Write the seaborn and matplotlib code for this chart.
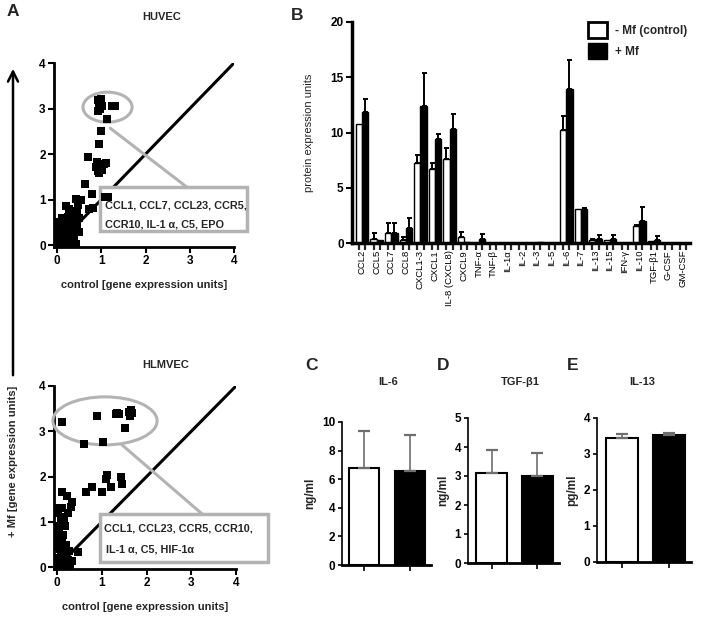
import matplotlib
matplotlib.use("Agg")
import pandas as pd
import matplotlib.pyplot as plt
import seaborn as sns
from matplotlib.patches import Ellipse, Rectangle, Patch, FancyArrowPatch

# -----------------------------
# Data
# -----------------------------
huvec_x = [0.93, 0.94, 0.95, 0.96, 0.93, 0.97, 0.98, 1.00, 1.01, 1.25, 1.32, 1.13,
           1.00, 0.95, 0.70, 0.88, 0.92, 0.95, 0.97, 1.02, 1.05, 1.10, 0.90,
           0.62, 0.80, 1.08, 1.15, 0.72, 0.82, 0.42, 0.55, 0.48, 0.20, 0.28,
           0.35, 0.38, 0.30, 0.45, 0.50, 0.10, 0.05, 0.15, 0.02, 0.08, 0.20,
           0.25, 0.12, 0.05, 0.18, 0.30, 0.35, 0.40, 0.02, 0.05, 0.10, 0.15,
           0.25, 0.30, 0.42, 0.00, 0.08, 0.05, 0.10, 0.15, 0.20, 0.22, 0.28,
           0.32, 0.12, 0.03, 0.38, 0.45, 0.50, 0.15, 0.07, 0.25]
huvec_y = [3.18, 3.12, 3.05, 3.00, 2.95, 3.10, 3.15, 3.20, 3.05, 3.05, 3.06, 2.76,
           2.50, 2.22, 1.93, 1.72, 1.62, 1.58, 1.70, 1.65, 1.78, 1.80, 1.82,
           1.35, 1.12, 1.06, 1.05, 0.80, 0.82, 1.02, 1.00, 0.88, 0.87, 0.80,
           0.75, 0.70, 0.68, 0.72, 0.60, 0.55, 0.50, 0.45, 0.40, 0.35, 0.35,
           0.30, 0.28, 0.20, 0.20, 0.25, 0.40, 0.35, 0.10, 0.05, 0.10, 0.10,
           0.15, 0.05, 0.02, 0.00, 0.15, 0.30, 0.25, 0.35, 0.15, 0.50, 0.45,
           0.55, 0.60, 0.15, 0.20, 0.45, 0.30, 0.02, 0.45, 0.62]

hlmvec_x = [0.12, 0.90, 0.59, 1.03, 1.31, 1.35, 1.39, 1.52, 1.60, 1.65, 1.68, 1.63,
            0.64, 0.77, 1.00, 1.09, 1.11, 1.20, 1.42, 1.46,
            0.10, 0.21, 0.34, 0.30, 0.25, 0.05, 0.03, 0.08, 0.12, 0.18,
            0.01, 0.05, 0.12, 0.20, 0.08, 0.03, 0.15, 0.27, 0.34, 0.46,
            0.00, 0.10, 0.20, 0.25, 0.02, 0.06, 0.14, 0.04,
            0.02, 0.05, 0.10, 0.15, 0.18, 0.05, 0.10, 0.03, 0.08, 0.15,
            0.12, 0.02, 0.20, 0.28]
hlmvec_y = [3.20, 3.33, 2.71, 2.77, 3.38, 3.40, 3.39, 3.07, 3.42, 3.47, 3.40, 3.33,
            1.66, 1.77, 1.67, 1.95, 2.03, 1.78, 2.00, 1.83,
            1.67, 1.57, 1.43, 1.33, 1.20, 1.30, 1.20, 1.00, 0.95, 0.90,
            0.60, 0.54, 0.46, 0.50, 0.31, 0.20, 0.24, 0.35, 0.13, 0.34,
            0.00, 0.05, 0.05, 0.15, 0.10, 0.40, 0.70, 0.80,
            0.05, 0.15, 0.25, 0.10, 0.35, 0.45, 0.60, 0.65, 1.10, 1.05,
            1.30, 0.90, 0.20, 0.05]
diag = [0, 4]

cytokines = ["CCL2", "CCL5", "CCL7", "CCL8", "CXCL1-3", "CXCL1", "IL-8 (CXCL8)",
             "CXCL9", "TNF-α", "TNF-β", "IL-1α", "IL-2", "IL-3", "IL-5", "IL-6",
             "IL-7", "IL-13", "IL-15", "IFN-γ", "IL-10", "TGF-β1", "G-CSF", "GM-CSF"]
ctrl_mean = [10.8, 0.4, 0.9, 0.3, 7.2, 6.7, 7.6, 0.5, 0.0, 0.0, 0.0, 0.0, 0.0, 0.0,
             10.2, 3.1, 0.3, 0.25, 0.0, 1.5, 0.2, 0.0, 0.0]
ctrl_err = [0.0, 0.5, 0.9, 0.2, 0.8, 0.5, 1.0, 0.5, 0.0, 0.0, 0.0, 0.0, 0.0, 0.0,
            1.3, 0.0, 0.1, 0.0, 0.0, 0.1, 0.0, 0.0, 0.0]
mf_mean = [11.9, 0.3, 0.9, 1.4, 12.4, 9.4, 10.3, 0.05, 0.4, 0.0, 0.0, 0.0, 0.05, 0.0,
           13.9, 3.1, 0.4, 0.4, 0.0, 2.0, 0.3, 0.0, 0.0]
mf_err = [1.1, 0.0, 0.9, 0.9, 3.0, 0.5, 1.4, 0.0, 0.4, 0.0, 0.0, 0.0, 0.0, 0.0,
          2.7, 0.1, 0.3, 0.3, 0.0, 1.3, 0.3, 0.0, 0.0]
group_names = ["- Mf (control)", "+ Mf"]

small_groups = ["- Mf", "+ Mf"]
il6_mean, il6_err = [6.8, 6.6], [2.6, 2.5]
tgf_mean, tgf_err = [3.1, 3.0], [0.8, 0.8]
il13_mean, il13_err = [3.45, 3.52], [0.1, 0.07]

# -----------------------------
# Style
# -----------------------------
sns.set_theme(style="ticks")
plt.rcParams["font.family"] = ["Liberation Sans", "DejaVu Sans"]
plt.rcParams["font.weight"] = "bold"
plt.rcParams["axes.labelweight"] = "bold"

W, H = 704, 623
fig = plt.figure(figsize=(W / 100, H / 100), dpi=100)


def px_axes(left, top, right, bottom):
    return fig.add_axes([left / W, 1 - bottom / H, (right - left) / W, (bottom - top) / H])


def px_text(x, y, s, size, **kw):
    fig.text(x / W, 1 - y / H, s, fontsize=size, fontweight="bold",
             ha=kw.pop("ha", "center"), va=kw.pop("va", "center"), **kw)


def style_axes(ax, lw=2.0):
    sns.despine(ax=ax)
    for side in ["left", "bottom"]:
        ax.spines[side].set_linewidth(lw)
        ax.spines[side].set_color("black")
    ax.tick_params(direction="out", length=4, width=1.5, colors="black",
                   labelsize=8.5, pad=2)


# -----------------------------
# Panel A: scatter plots
# -----------------------------
def scatter_panel(ax, xs, ys, ell, line, box, lines_txt):
    sns.scatterplot(x=xs, y=ys, marker="s", s=28, color="black", linewidth=0, ax=ax, zorder=4)
    ax.plot(diag, diag, color="black", lw=2.2, zorder=2)
    ax.set_xlim(-0.07, 4)
    ax.set_ylim(-0.04, 4)
    ax.set_xticks(range(5))
    ax.set_yticks(range(5))
    style_axes(ax)
    ax.set_xlabel("control [gene expression units]", fontsize=8, labelpad=9)
    gray = "#b3b3b3"
    ax.add_patch(Ellipse(ell[:2], ell[2], ell[3], fill=False, ec=gray, lw=2.2,
                         clip_on=False, zorder=3))
    ax.plot(line[0], line[1], color=gray, lw=2.2, clip_on=False, zorder=3)
    ax.add_patch(Rectangle(box[:2], box[2], box[3], fill=True, fc="white", ec=gray,
                           lw=2.5, clip_on=False, zorder=3))
    for (tx, ty, s) in lines_txt:
        ax.text(tx, ty, s, fontsize=7.8, fontweight="bold", ha="left", va="center",
                zorder=6, clip_on=False)


ax_a1 = px_axes(54, 63, 234, 247)
scatter_panel(ax_a1, huvec_x, huvec_y,
              (1.14, 3.03, 1.11, 0.66),
              ([1.2, 2.94], [2.57, 1.27]),
              (0.97, 0.31, 3.33, 0.96),
              [(1.08, 0.88, "CCL1, CCL7, CCL23, CCR5,"),
               (1.08, 0.46, "CCR10, IL-1 α, C5, EPO")])

ax_a2 = px_axes(54, 386, 236, 569)
scatter_panel(ax_a2, hlmvec_x, hlmvec_y,
              (1.07, 3.23, 2.33, 1.06),
              ([1.45, 3.26], [2.70, 1.16]),
              (0.96, 0.115, 3.76, 1.05),
              [(1.04, 0.86, "CCL1, CCL23, CCR5, CCR10,"),
               (1.10, 0.40, "IL-1 α, C5, HIF-1α")])

fig.add_artist(FancyArrowPatch((13 / W, 1 - 378 / H), (13 / W, 1 - 66 / H),
                               transform=fig.transFigure, arrowstyle="->",
                               mutation_scale=18, lw=1.8, color="black"))
px_text(13, 461, "+ Mf [gene expression units]", 8, rotation=90)
px_text(13, 11, "A", 12.5)
px_text(162, 17, "HUVEC", 8)
px_text(166, 365, "HLMVEC", 8)

# -----------------------------
# Panel B: cytokine array
# -----------------------------
ax_b = px_axes(352, 22, 690, 243)
dfb = pd.DataFrame({
    "cytokine": cytokines * 2,
    "value": ctrl_mean + mf_mean,
    "group": [group_names[0]] * len(cytokines) + [group_names[1]] * len(cytokines),
})
sns.barplot(data=dfb, x="cytokine", y="value", hue="group", palette=["white", "black"],
            edgecolor="black", linewidth=1.0, width=0.86, legend=False, ax=ax_b)
bar_centers = []
for cont, errs in zip(ax_b.containers, [ctrl_err, mf_err]):
    for bar, e in zip(cont, errs):
        cx = bar.get_x() + bar.get_width() / 2
        bar_centers.append(cx)
        if e > 0:
            ax_b.errorbar(cx, bar.get_height(), yerr=[[0], [e]], fmt="none", ecolor="black",
                          elinewidth=1.4, capsize=1.8, capthick=1.4)
ax_b.set_xlim(-0.69, 22.48)
ax_b.set_ylim(0, 20)
ax_b.set_yticks([0, 5, 10, 15, 20])
style_axes(ax_b, lw=2.5)
ax_b.set_xticks(bar_centers, minor=True)
ax_b.tick_params(axis="x", which="minor", length=5, width=1.6, direction="out")
ax_b.tick_params(axis="x", which="major", length=0, pad=5)
ax_b.set_xticklabels(cytokines, rotation=90, fontsize=6.8, fontweight="normal")
ax_b.set_xlabel("")
ax_b.set_ylabel("protein expression units", fontsize=8, fontweight="normal", labelpad=12)
handles = [Patch(facecolor="white", edgecolor="black", lw=2), Patch(facecolor="black", edgecolor="black")]
ax_b.legend(handles, group_names, loc="upper left", bbox_to_anchor=(588 / W, 1 - 22 / H),
            bbox_transform=fig.transFigure, frameon=False, handlelength=1.6, handleheight=1.7,
            handletextpad=0.7, labelspacing=0.45, borderpad=0, borderaxespad=0,
            prop={"weight": "bold", "size": 8.5})
px_text(297, 16, "B", 12.5)


# -----------------------------
# Panels C-E: ELISA
# -----------------------------
def small_bar(ax, means, errs, ylim, yticks, xlim, width, ylabel):
    df = pd.DataFrame({"group": small_groups, "value": means})
    sns.barplot(data=df, x="group", y="value", hue="group", palette=["white", "black"],
                edgecolor="black", linewidth=1.5, width=width, legend=False, ax=ax)
    for bar, e in zip(ax.patches, errs):
        cx = bar.get_x() + bar.get_width() / 2
        eb = ax.errorbar(cx, bar.get_height(), yerr=[[0], [e]], fmt="none", ecolor="#6e6e6e",
                         elinewidth=1.2, capsize=4.3, capthick=1.6, zorder=1)
        for cap in eb[1]:
            cap.set_color("black")
    ax.set_xlim(*xlim)
    ax.set_ylim(*ylim)
    ax.set_yticks(yticks)
    style_axes(ax, lw=2.0)
    ax.spines["left"].set_linewidth(1.2)
    ax.tick_params(axis="x", labelbottom=False, length=4, width=1.2)
    ax.tick_params(axis="y", length=3, width=1.2)
    ax.set_xlabel("")
    ax.set_ylabel(ylabel, fontsize=8.5, labelpad=4)


ax_c = px_axes(342, 422, 431, 565)
small_bar(ax_c, il6_mean, il6_err, (0, 10), [0, 2, 4, 6, 8, 10], (-0.48, 1.46), 0.65, "ng/ml")
ax_d = px_axes(468, 418, 559, 563)
small_bar(ax_d, tgf_mean, tgf_err, (0, 5), [0, 1, 2, 3, 4, 5], (-0.52, 1.48), 0.68, "ng/ml")
ax_e = px_axes(597, 418, 691, 562)
small_bar(ax_e, il13_mean, il13_err, (0, 4), [0, 1, 2, 3, 4], (-0.54, 1.48), 0.69, "pg/ml")

px_text(311, 366, "C", 12.5)
px_text(443, 366, "D", 12.5)
px_text(573, 366, "E", 12.5)
px_text(388, 382, "IL-6", 8)
px_text(520, 382, "TGF-β1", 8)
px_text(642, 382, "IL-13", 8)

fig.savefig("out.png", dpi=100)
plt.close(fig)
